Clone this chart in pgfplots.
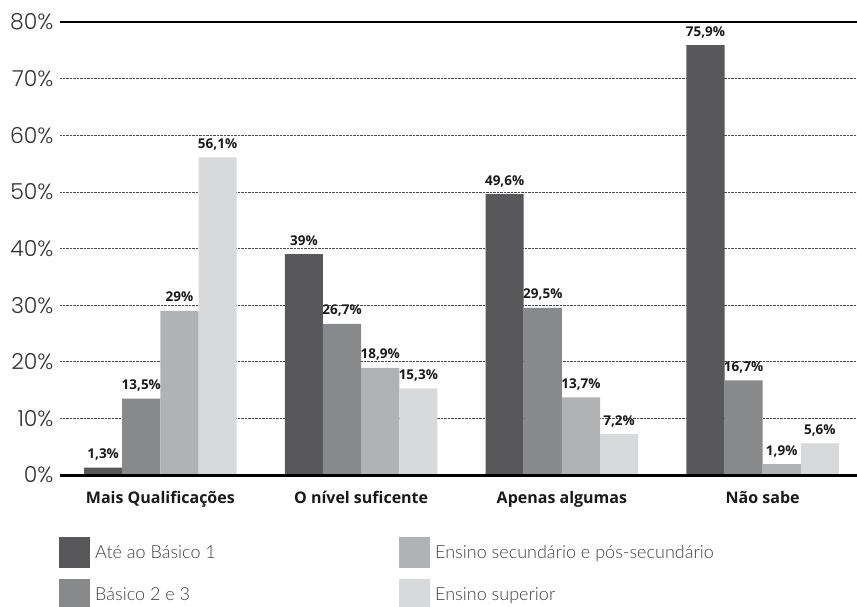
\documentclass[border=0pt]{standalone}
\usepackage{fontspec}
\setmainfont{Open Sans}
\newfontfamily\tickfont{Poppins Light}
\newfontfamily\legfont{Lato Light}
\usepackage{pgfplots}
\pgfplotsset{compat=1.18}
\definecolor{cA}{HTML}{58585A}
\definecolor{cB}{HTML}{88898B}
\definecolor{cC}{HTML}{B1B2B4}
\definecolor{cD}{HTML}{D8D9DB}
\begin{document}
\begin{tikzpicture}
\useasboundingbox (-60pt,-131pt) rectangle (797pt,475pt);
\begin{axis}[
  scale only axis,
  width=797pt, height=453pt,
  ybar=0pt, bar width=0.19,
  xmin=-0.5, xmax=3.47,
  ymin=0, ymax=80,
  clip=false,
  axis line style={draw=none},
  ytick={0,10,...,80},
  yticklabel={\pgfmathprintnumber{\tick}\%},
  /pgf/number format/assume math mode=true,
  yticklabel style={font=\tickfont\fontsize{22}{22}\selectfont, text=black!80, anchor=east, xshift=-3pt},
  ymajorgrids,
  major grid style={densely dotted, black!70, line width=0.7pt},
  xtick={0,1,2,3},
  xticklabels={Mais Qualificações, O nível suficente, Apenas algumas, Não sabe},
  xticklabel style={font=\bfseries\fontsize{16}{16}\selectfont, text=black!90, anchor=base, yshift=-24pt},
  tick style={draw=none},
  nodes near coords={\pgfmathprintnumber[fixed, precision=1, use comma]{\pgfplotspointmeta}\%},
  every node near coord/.append style={font=\bfseries\fontsize{13.5}{13.5}\selectfont, text=black!90, anchor=base, inner sep=0pt, yshift=9pt},
  legend columns=2, transpose legend,
  legend cell align=left,
  legend image code/.code={\path[#1, draw=none] (0pt,-15.5pt) rectangle (31pt,15.5pt);},
  legend style={at={(0,0)}, anchor=north west, yshift=-62pt, xshift=-1pt, draw=none, fill=none, inner sep=0pt,
    row sep=11pt, column sep=0pt, nodes={inner sep=0pt},
    font=\legfont\fontsize{18}{18}\selectfont, text=black!75,
    /tikz/every odd column/.append style={column sep=5pt}},
]
\addplot[fill=cA, draw=none] coordinates {(0,1.3) (1,39) (2,49.6) (3,75.9)};
\addlegendentry{\makebox[304pt][l]{Até ao Básico 1}}
\addplot[fill=cB, draw=none] coordinates {(0,13.5) (1,26.7) (2,29.5) (3,16.7)};
\addlegendentry{\makebox[304pt][l]{Básico 2 e 3}}
\addplot[fill=cC, draw=none] coordinates {(0,29) (1,18.9) (2,13.7) (3,1.9)};
\addlegendentry{Ensino secundário e pós-secundário}
\addplot[fill=cD, draw=none] coordinates {(0,56.1) (1,15.3) (2,7.2) (3,5.6)};
\addlegendentry{Ensino superior}
\draw[black, line width=3pt] (rel axis cs:0,0) -- (rel axis cs:1,0);
\draw[black, line width=2pt] (rel axis cs:0,1) -- (rel axis cs:1,1);
\end{axis}
\end{tikzpicture}
\end{document}
